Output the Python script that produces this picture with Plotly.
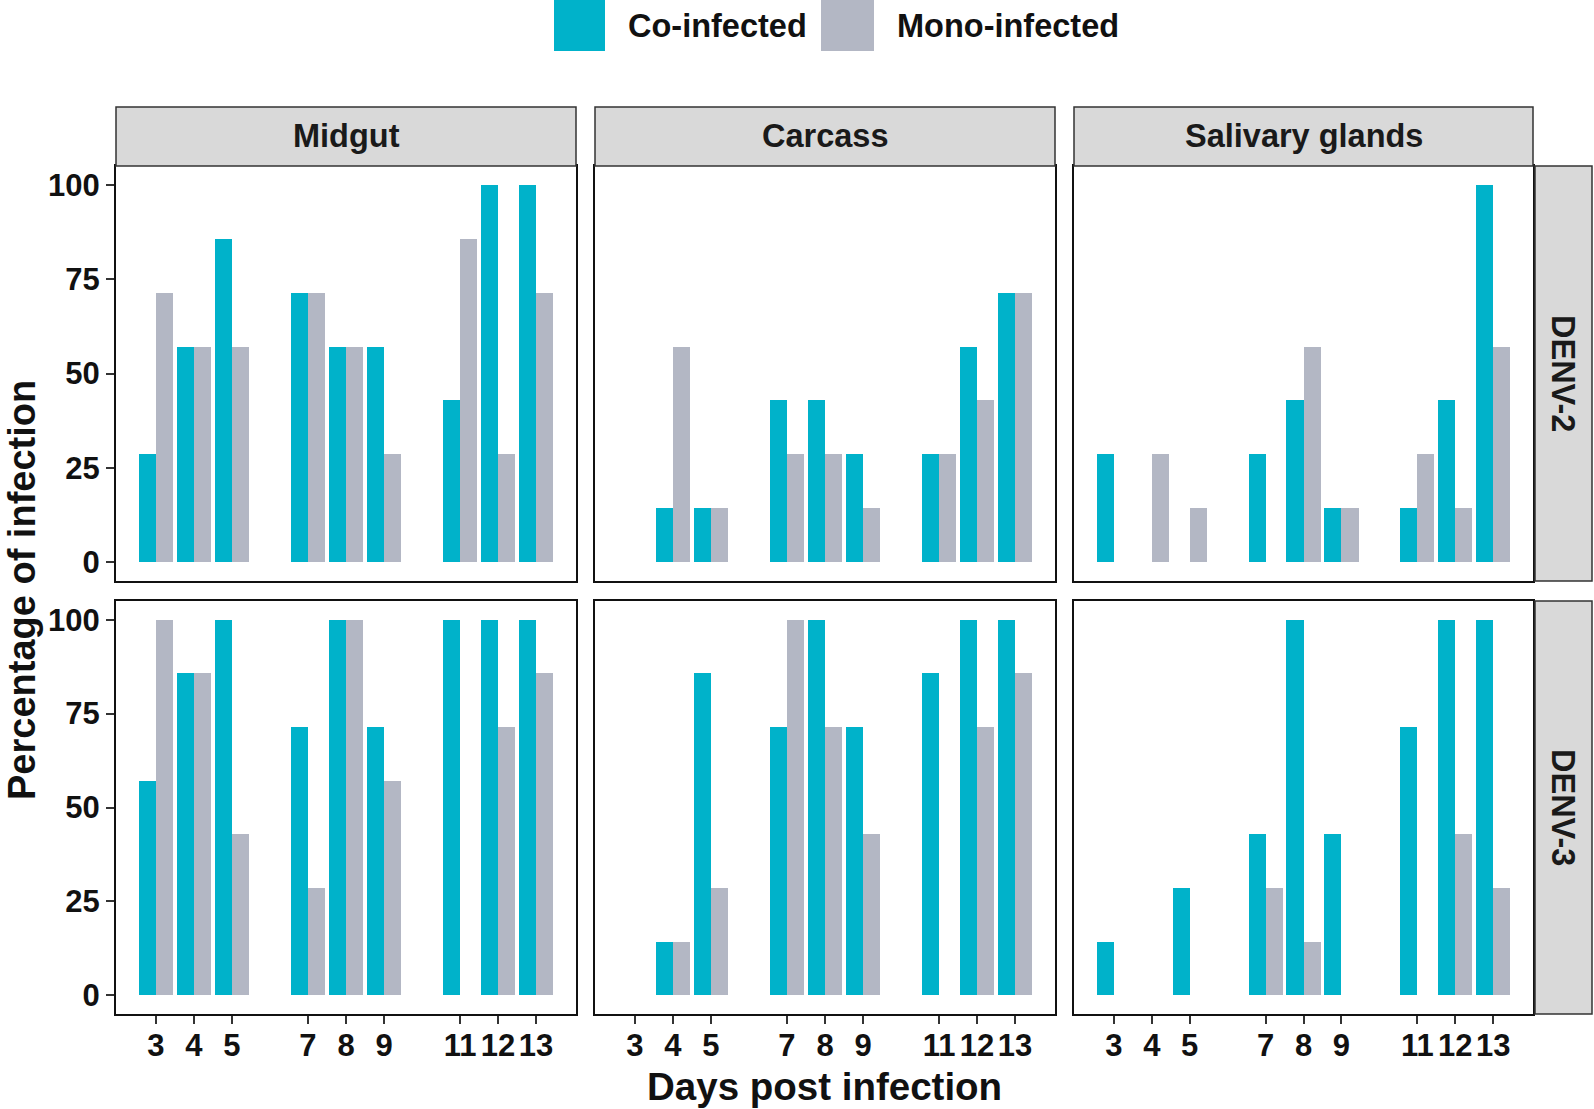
import plotly.graph_objects as go
from plotly.subplots import make_subplots

days = [3, 4, 5, 7, 8, 9, 11, 12, 13]
tissues = ["Midgut", "Carcass", "Salivary glands"]
serotypes = ["DENV-2", "DENV-3"]
series_names = ["Co-infected", "Mono-infected"]
y_ticks = [0, 25, 50, 75, 100]

# DENV-2
denv2_midgut_co = [28.6, 57.1, 85.7, 71.4, 57.1, 57.1, 42.9, 100, 100]
denv2_midgut_mono = [71.4, 57.1, 57.1, 71.4, 57.1, 28.6, 85.7, 28.6, 71.4]
denv2_carcass_co = [0, 14.3, 14.3, 42.9, 42.9, 28.6, 28.6, 57.1, 71.4]
denv2_carcass_mono = [0, 57.1, 14.3, 28.6, 28.6, 14.3, 28.6, 42.9, 71.4]
denv2_salivary_co = [28.6, 0, 0, 28.6, 42.9, 14.3, 14.3, 42.9, 100]
denv2_salivary_mono = [0, 28.6, 14.3, 0, 57.1, 14.3, 28.6, 14.3, 57.1]
# DENV-3
denv3_midgut_co = [57.1, 85.7, 100, 71.4, 100, 71.4, 100, 100, 100]
denv3_midgut_mono = [100, 85.7, 42.9, 28.6, 100, 57.1, 0, 71.4, 85.7]
denv3_carcass_co = [0, 14.3, 85.7, 71.4, 100, 71.4, 85.7, 100, 100]
denv3_carcass_mono = [0, 14.3, 28.6, 100, 71.4, 42.9, 0, 71.4, 85.7]
denv3_salivary_co = [14.3, 0, 28.6, 42.9, 100, 42.9, 71.4, 100, 100]
denv3_salivary_mono = [0, 0, 0, 28.6, 14.3, 0, 0, 42.9, 28.6]

panels = {
    (0, 0): (denv2_midgut_co, denv2_midgut_mono),
    (0, 1): (denv2_carcass_co, denv2_carcass_mono),
    (0, 2): (denv2_salivary_co, denv2_salivary_mono),
    (1, 0): (denv3_midgut_co, denv3_midgut_mono),
    (1, 1): (denv3_carcass_co, denv3_carcass_mono),
    (1, 2): (denv3_salivary_co, denv3_salivary_mono),
}

CO = "#00B2CA"
MONO = "#B3B7C4"
FONT = "Liberation Sans, Arial, sans-serif"

W, H = 1594, 1109
L, R, T, B = 116, 1533, 166, 1014
PW, PH = R - L, B - T


def px(x):
    return (x - L) / PW


def py(y):
    return (B - y) / PH


col_px = [(116, 576), (595, 1055), (1074, 1533)]
row_px = [(166, 581), (601, 1014)]

fig = make_subplots(rows=2, cols=3)

for (r, c), (co_vals, mono_vals) in panels.items():
    fig.add_trace(go.Bar(x=days, y=co_vals, name=series_names[0], marker_color=CO,
                         marker_line_width=0, width=0.45, offset=-0.45,
                         showlegend=False), row=r + 1, col=c + 1)
    fig.add_trace(go.Bar(x=days, y=mono_vals, name=series_names[1], marker_color=MONO,
                         marker_line_width=0, width=0.45, offset=0.0,
                         showlegend=False), row=r + 1, col=c + 1)

for r in range(2):
    for c in range(3):
        idx = r * 3 + c + 1
        xa = "xaxis" if idx == 1 else f"xaxis{idx}"
        ya = "yaxis" if idx == 1 else f"yaxis{idx}"
        x0, x1 = col_px[c]
        y0, y1 = row_px[r]
        fig.layout[xa].update(
            domain=[px(x0), px(x1)], range=[1.95, 14.05],
            tickmode="array", tickvals=days, ticktext=[str(d) for d in days],
            showticklabels=(r == 1), ticks="outside" if r == 1 else "",
            ticklen=8, tickwidth=2, tickcolor="#333333", ticklabelstandoff=-5,
            tickfont=dict(family=FONT, size=31, color="#111111", weight="bold"),
            showline=True, mirror=True, linecolor="#111111", linewidth=2,
            showgrid=False, zeroline=False, fixedrange=True)
        fig.layout[ya].update(
            domain=[py(y1), py(y0)], range=[-5, 105],
            tickmode="array", tickvals=y_ticks, ticktext=[str(v) for v in y_ticks],
            showticklabels=(c == 0), ticks="outside" if c == 0 else "",
            ticklen=8, tickwidth=2, tickcolor="#333333",
            tickfont=dict(family=FONT, size=31, color="#111111", weight="bold"),
            showline=True, mirror=True, linecolor="#111111", linewidth=2,
            showgrid=False, zeroline=False, fixedrange=True)

shapes = []
annotations = []
# top strips
for c, name in enumerate(tissues):
    x0, x1 = col_px[c]
    shapes.append(dict(type="rect", xref="paper", yref="paper",
                       x0=px(x0), x1=px(x1), y0=py(166), y1=py(107),
                       fillcolor="#D9D9D9", line=dict(color="#333333", width=1.5)))
    annotations.append(dict(xref="paper", yref="paper", x=px((x0 + x1) / 2), y=py(136.5),
                            text=name, showarrow=False, xanchor="center", yanchor="middle",
                            font=dict(family=FONT, size=32.5, color="#1a1a1a", weight="bold")))
# right strips
for r, name in enumerate(serotypes):
    y0, y1 = row_px[r]
    shapes.append(dict(type="rect", xref="paper", yref="paper",
                       x0=px(1535), x1=px(1592), y0=py(y1), y1=py(y0),
                       fillcolor="#D9D9D9", line=dict(color="#333333", width=1.5)))
    annotations.append(dict(xref="paper", yref="paper", x=px(1563.5), y=py((y0 + y1) / 2),
                            text=name, showarrow=False, textangle=90,
                            xanchor="center", yanchor="middle",
                            font=dict(family=FONT, size=32.5, color="#1a1a1a", weight="bold")))

# legend (manual, large swatches)
leg = [(series_names[0], CO, 554, 605, 626), (series_names[1], MONO, 821, 874, 895)]
for name, color, sx0, sx1, tx in leg:
    shapes.append(dict(type="rect", xref="paper", yref="paper",
                       x0=px(sx0), x1=px(sx1), y0=py(51), y1=py(0),
                       fillcolor=color, line=dict(width=0)))
    annotations.append(dict(xref="paper", yref="paper", x=px(tx), y=py(26),
                            text=name, showarrow=False, xanchor="left", yanchor="middle",
                            font=dict(family=FONT, size=32.5, color="#111111", weight="bold")))

# axis titles
annotations.append(dict(xref="paper", yref="paper", x=px(824.5), y=py(1086),
                        text="Days post infection", showarrow=False,
                        xanchor="center", yanchor="middle",
                        font=dict(family=FONT, size=38.5, color="#111111", weight="bold")))
annotations.append(dict(xref="paper", yref="paper", x=px(22), y=py(590),
                        text="Percentage of infection", showarrow=False, textangle=-90,
                        xanchor="center", yanchor="middle", borderpad=0,
                        font=dict(family=FONT, size=38, color="#111111", weight="bold")))

fig.update_layout(
    width=W, height=H,
    margin=dict(l=L, r=W - R, t=T, b=H - B, pad=0),
    barmode="overlay", bargap=0,
    paper_bgcolor="white", plot_bgcolor="white",
    showlegend=False, shapes=shapes, annotations=annotations,
    font=dict(family=FONT),
)

fig.write_html("out.html", config={"displayModeBar": False},
               post_script="document.body.style.margin='0';document.body.style.overflow='hidden';")
